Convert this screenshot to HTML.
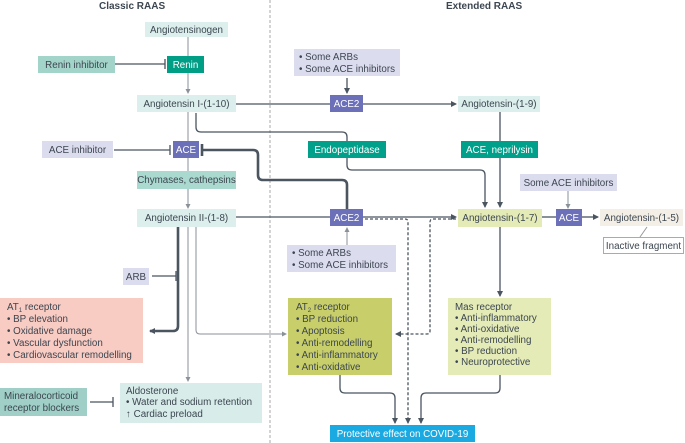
<!DOCTYPE html>
<html><head><meta charset="utf-8"><style>
html,body{margin:0;padding:0;background:#fff;}
svg{display:block;font-family:"Liberation Sans",sans-serif;}
text{font-size:9.8px;fill:#3c4650;}
.w{fill:#fff;}
.l{stroke:#4a5560;stroke-width:1.3;fill:none;}
.t{stroke:#4a5560;stroke-width:2.6;fill:none;}
.g{stroke:#8a9299;stroke-width:1;fill:none;}
.d{stroke:#4a5560;stroke-width:1.3;fill:none;stroke-dasharray:3,2;}
</style></head><body>
<svg width="685" height="443" viewBox="0 0 685 443">
<defs>
<marker id="a" markerWidth="6" markerHeight="6" refX="5" refY="3" orient="auto" markerUnits="userSpaceOnUse"><path d="M0,0L6,3L0,6z" fill="#4a5560"/></marker>
<marker id="ag" markerWidth="5" markerHeight="5" refX="4" refY="2.5" orient="auto" markerUnits="userSpaceOnUse"><path d="M0,0L5,2.5L0,5z" fill="#8a9299"/></marker>
</defs>
<text x="99" y="9" style="font-weight:bold;font-size:10px">Classic RAAS</text>
<text x="446" y="9" style="font-weight:bold;font-size:10px">Extended RAAS</text>
<line x1="270" y1="0" x2="270" y2="443" stroke="#aaa" stroke-dasharray="3,2"/>

<line class="g" x1="188" y1="37" x2="188" y2="56"/>
<line class="g" x1="188" y1="73" x2="188" y2="93" marker-end="url(#ag)"/>
<line class="g" x1="188" y1="112" x2="188" y2="141"/>
<line class="g" x1="188" y1="158" x2="188" y2="171"/>
<line class="g" x1="188" y1="189" x2="188" y2="208" marker-end="url(#ag)"/>
<line class="l" x1="115" y1="64" x2="165" y2="64"/><line class="l" x1="165" y1="59" x2="165" y2="69"/>
<line class="l" x1="114" y1="150" x2="170" y2="150"/><line class="l" x1="170" y1="145" x2="170" y2="155"/>
<line class="l" x1="236" y1="104" x2="330" y2="104"/>
<line class="l" x1="363" y1="104" x2="456" y2="104" marker-end="url(#a)"/>
<line class="l" x1="347" y1="78" x2="347" y2="93" marker-end="url(#a)"/>
<path class="l" d="M196,113 V127 Q196,132 201,132 H342 Q347,132 347,137 V165 Q347,170 352,170 H480 Q485,170 485,175 V207" marker-end="url(#a)"/>
<line class="l" x1="500" y1="112" x2="500" y2="207" marker-end="url(#a)"/>
<path class="t" d="M347,209 V185 Q347,180 342,180 H263 Q258,180 258,175 V155 Q258,150 253,150 H203"/>
<line class="t" x1="202" y1="144" x2="202" y2="156"/>
<line class="l" x1="236" y1="217" x2="330" y2="217"/>
<line class="l" x1="363" y1="217" x2="456" y2="217" marker-end="url(#a)"/>
<line class="g" x1="347" y1="245" x2="347" y2="228" marker-end="url(#ag)"/>
<line class="g" x1="568" y1="191" x2="568" y2="208" marker-end="url(#ag)"/>
<line class="l" x1="542" y1="217" x2="556" y2="217"/>
<line class="l" x1="582" y1="217" x2="598" y2="217" marker-end="url(#a)"/>
<polyline points="647,227 640,237" stroke="#999" fill="none"/>
<path class="d" d="M365,219 H405 Q408,219 408,222 V423" marker-end="url(#a)"/>
<path class="d" d="M456,219 H433 Q430,219 430,222 V331 Q430,334 427,334 H396" marker-end="url(#a)"/>
<line class="l" x1="500" y1="227" x2="500" y2="296" marker-end="url(#a)"/>
<path class="t" d="M178,227 V326 Q178,331 173,331 H150" marker-end="url(#a)"/>
<line class="l" x1="152" y1="276" x2="176" y2="276"/><line class="l" x1="176" y1="271" x2="176" y2="281"/>
<path class="g" d="M196,227 V330 Q196,334 200,334 H286" marker-end="url(#ag)"/>
<line class="g" x1="188" y1="227" x2="188" y2="381" marker-end="url(#ag)"/>
<line class="l" x1="90" y1="402" x2="113" y2="402"/><line class="l" x1="113" y1="397" x2="113" y2="407"/>
<path class="l" d="M340,375 V388 Q340,393 345,393 H390 Q395,393 395,398 V423" marker-end="url(#a)"/>
<path class="l" d="M500,375 V388 Q500,393 495,393 H426 Q421,393 421,398 V423" marker-end="url(#a)"/>

<rect x="145" y="22" width="83" height="15" fill="#dcefec"/><text x="186.5" y="33" text-anchor="middle">Angiotensinogen</text>
<rect x="38" y="56" width="77" height="17" fill="#a3d4c9"/><text x="76.5" y="68" text-anchor="middle">Renin inhibitor</text>
<rect x="167" y="56" width="37" height="17" fill="#009e85"/><text class="w" x="185.5" y="68" text-anchor="middle">Renin</text>
<rect x="137" y="95" width="99" height="17" fill="#dcefec"/><text x="186.5" y="107" text-anchor="middle">Angiotensin I-(1-10)</text>
<rect x="42" y="141" width="71" height="17" fill="#dcdcef"/><text x="77.5" y="153" text-anchor="middle">ACE inhibitor</text>
<rect x="173" y="141" width="26" height="17" fill="#6b70b8"/><text class="w" x="186" y="153" text-anchor="middle">ACE</text>
<rect x="137" y="171" width="99" height="18" fill="#a9d9cf"/><text x="186.5" y="183" text-anchor="middle">Chymases, cathepsins</text>
<rect x="137" y="209" width="99" height="18" fill="#dcefec"/><text x="186.5" y="221" text-anchor="middle">Angiotensin II-(1-8)</text>
<rect x="294" y="49" width="106" height="27" fill="#dcdcef"/><text x="299" y="60">• Some ARBs</text><text x="299" y="72">• Some ACE inhibitors</text>
<rect x="330" y="95" width="33" height="17" fill="#6b70b8"/><text class="w" x="346.5" y="107" text-anchor="middle">ACE2</text>
<rect x="458" y="96" width="82" height="16" fill="#dcefec"/><text x="499" y="107" text-anchor="middle">Angiotensin-(1-9)</text>
<rect x="308" y="141" width="78" height="17" fill="#00a08a"/><text class="w" x="347" y="153" text-anchor="middle">Endopeptidase</text>
<rect x="461" y="141" width="77" height="17" fill="#00a08a"/><text class="w" x="499.5" y="153" text-anchor="middle">ACE, neprilysin</text>
<rect x="520" y="174" width="97" height="17" fill="#dcdcef"/><text x="568.5" y="186" text-anchor="middle">Some ACE inhibitors</text>
<rect x="330" y="209" width="33" height="17" fill="#6b70b8"/><text class="w" x="346.5" y="221" text-anchor="middle">ACE2</text>
<rect x="458" y="209" width="84" height="18" fill="#e4ebb7"/><text x="500" y="221" text-anchor="middle">Angiotensin-(1-7)</text>
<rect x="556" y="209" width="26" height="17" fill="#6b70b8"/><text class="w" x="569" y="221" text-anchor="middle">ACE</text>
<rect x="600" y="209" width="83" height="17" fill="#f3efe6"/><text x="641.5" y="221" text-anchor="middle">Angiotensin-(1-5)</text>
<rect x="603.5" y="237.5" width="80" height="16" fill="#fff" stroke="#aaa"/><text x="643.5" y="249" text-anchor="middle">Inactive fragment</text>
<rect x="287" y="245" width="109" height="27" fill="#dcdcef"/><text x="292" y="256">• Some ARBs</text><text x="292" y="268">• Some ACE inhibitors</text>
<rect x="123" y="268" width="26" height="17" fill="#dcdcef"/><text x="136" y="280" text-anchor="middle">ARB</text>
<rect x="0" y="298" width="143" height="65" fill="#f8cbc3"/>
<text x="7" y="310">AT<tspan font-size="6" dy="2">1</tspan><tspan dy="-2"> receptor</tspan></text>
<text x="7" y="322">• BP elevation</text><text x="7" y="334">• Oxidative damage</text><text x="7" y="346">• Vascular dysfunction</text><text x="7" y="358">• Cardiovascular remodelling</text>
<rect x="288" y="298" width="104" height="77" fill="#c8cf6a"/>
<text x="296" y="310">AT<tspan font-size="6" dy="2">2</tspan><tspan dy="-2"> receptor</tspan></text>
<text x="296" y="322">• BP reduction</text><text x="296" y="334">• Apoptosis</text><text x="296" y="346">• Anti-remodelling</text><text x="296" y="358">• Anti-inflammatory</text><text x="296" y="370">• Anti-oxidative</text>
<rect x="448" y="298" width="103" height="77" fill="#e4ebb7"/>
<text x="455" y="310">Mas receptor</text><text x="455" y="321">• Anti-inflammatory</text><text x="455" y="332">• Anti-oxidative</text><text x="455" y="343">• Anti-remodelling</text><text x="455" y="354">• BP reduction</text><text x="455" y="365">• Neuroprotective</text>
<rect x="0" y="388" width="87" height="28" fill="#9fcfc6"/><text x="4" y="399">Mineralocorticoid</text><text x="4" y="411">receptor blockers</text>
<rect x="120" y="383" width="142" height="40" fill="#d8ecea"/>
<text x="126" y="394">Aldosterone</text><text x="126" y="405">• Water and sodium retention</text><text x="126" y="417">↑ Cardiac preload</text>
<rect x="330" y="425" width="145" height="17" fill="#1aa9e0"/><text class="w" x="402.5" y="437" text-anchor="middle">Protective effect on COVID-19</text>
</svg>
</body></html>
